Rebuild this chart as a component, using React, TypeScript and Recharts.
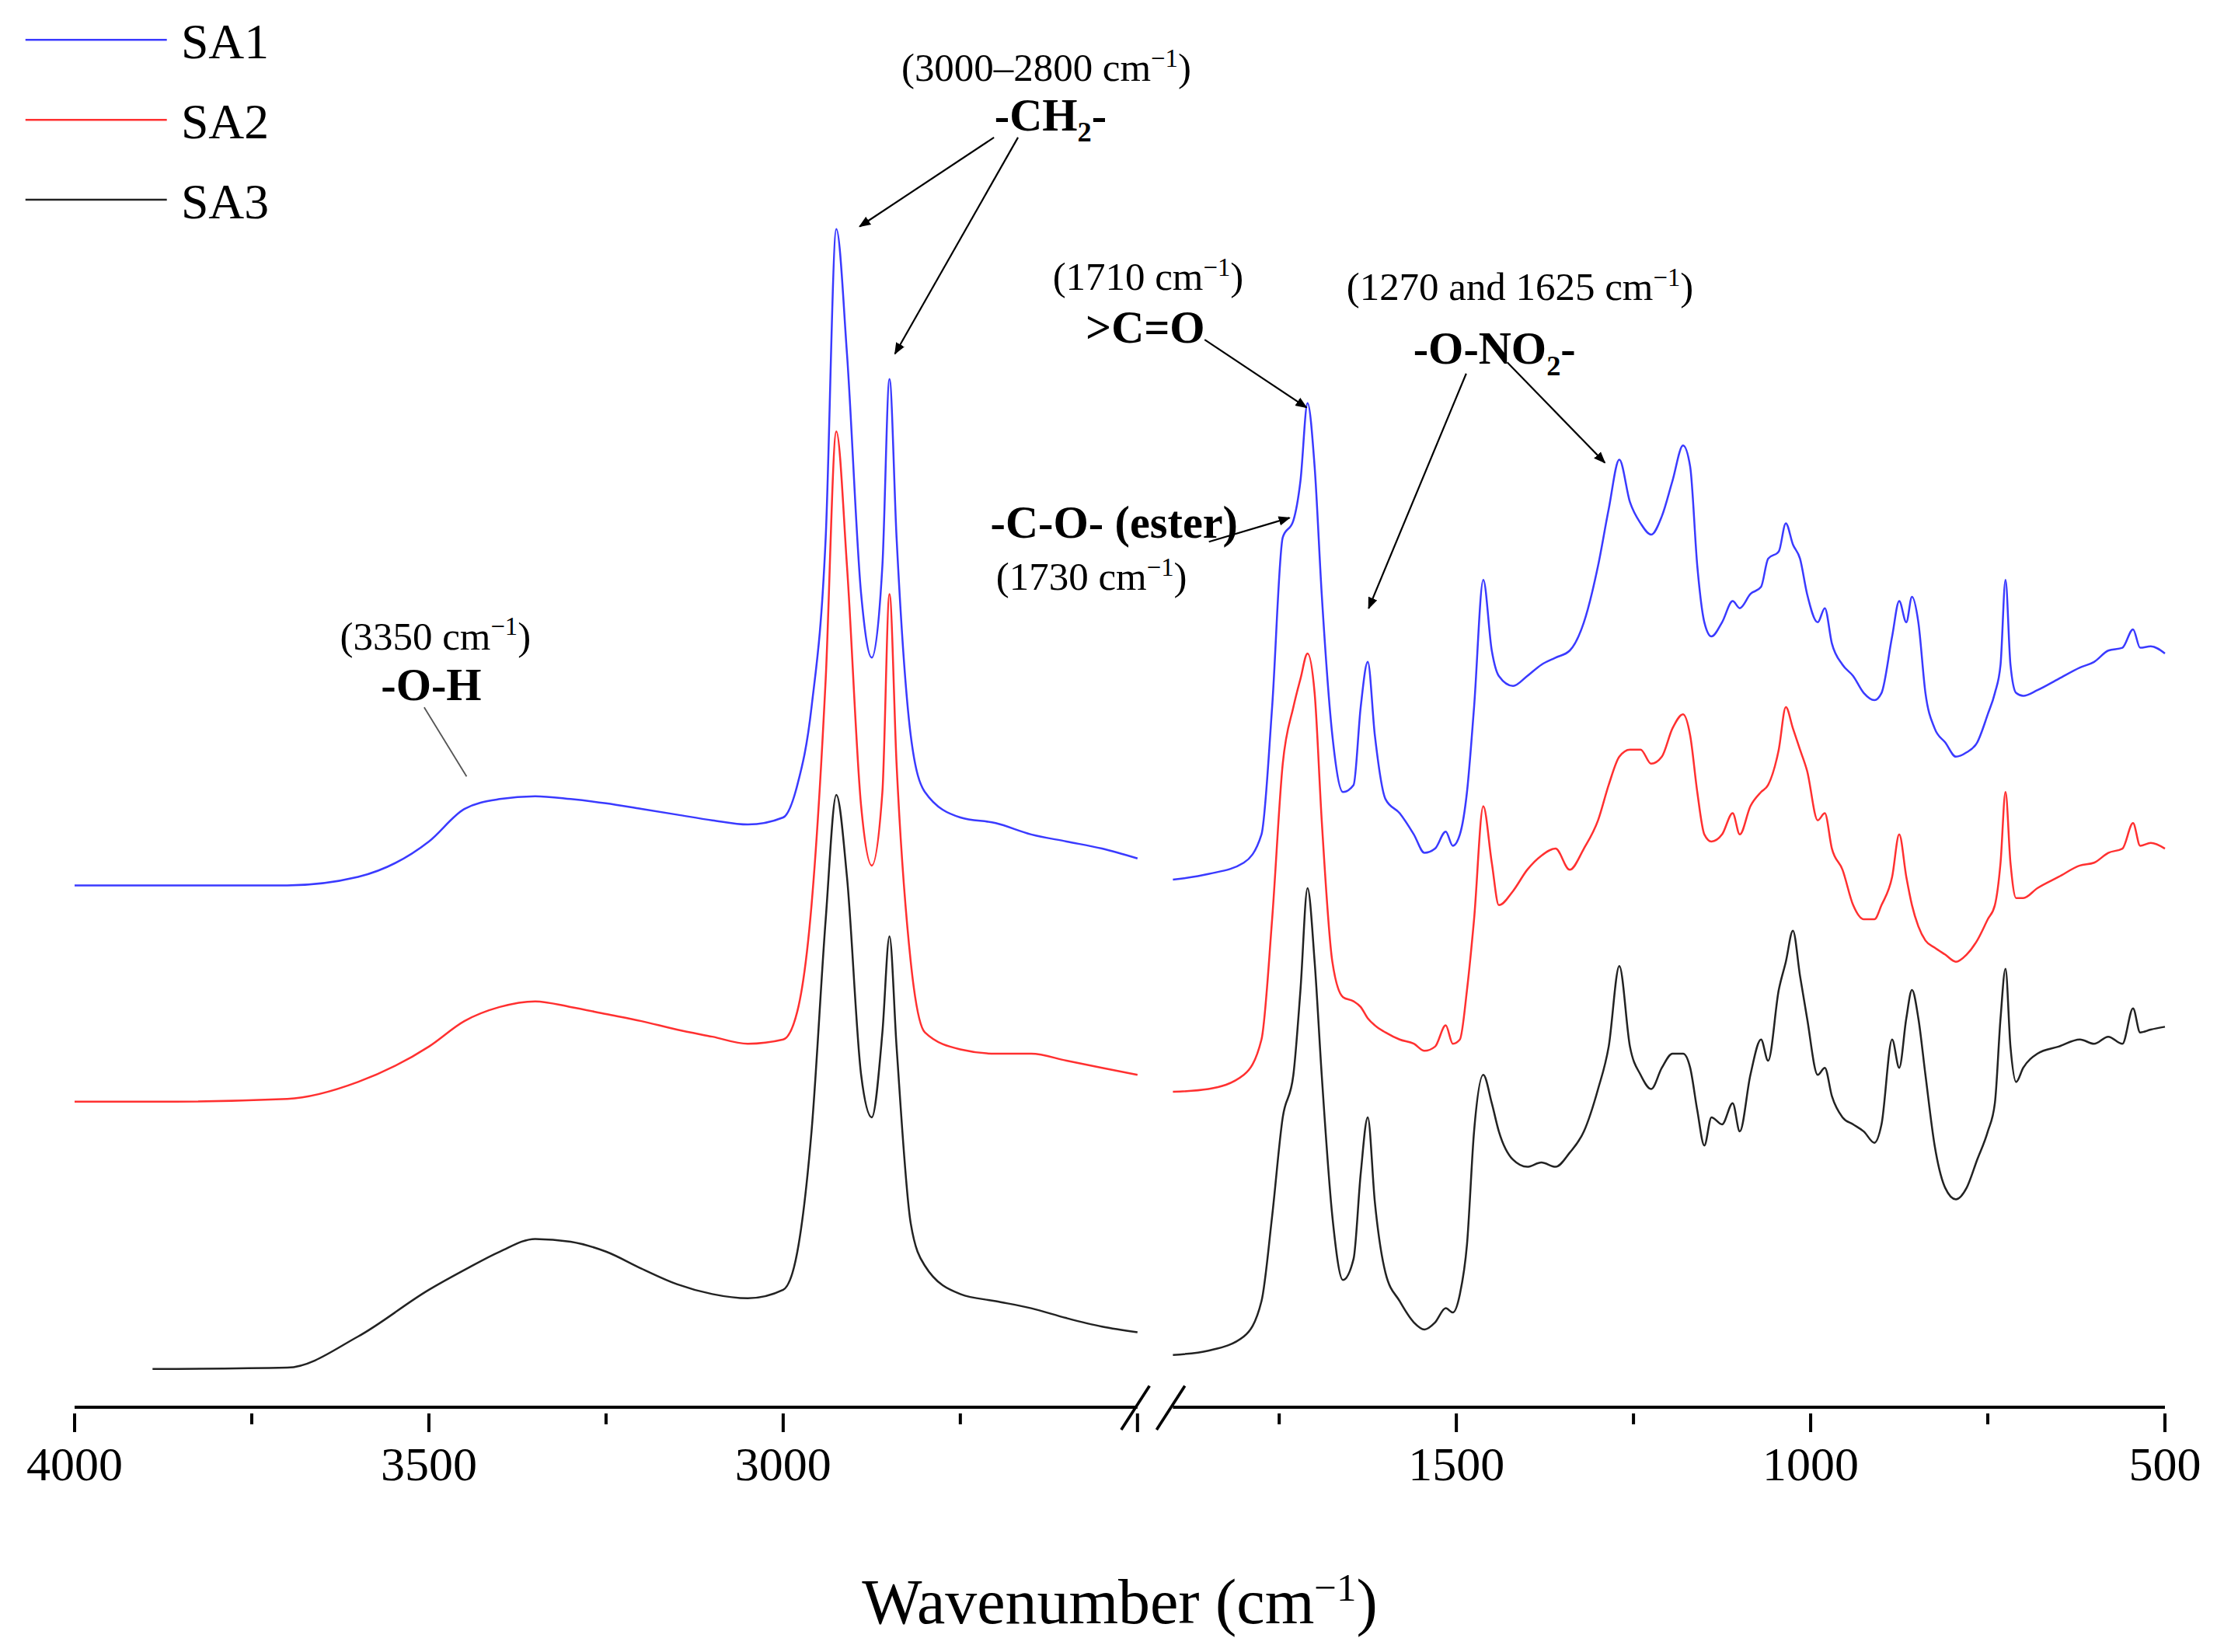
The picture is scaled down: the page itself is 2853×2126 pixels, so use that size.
import React from 'react';
import { LineChart, Line, XAxis, YAxis, ReferenceLine } from 'recharts';

// wavenumbers (cm-1) of the high-frequency segment and the fingerprint segment
const leftWave = [4000, 3890, 3700, 3600, 3500, 3450, 3400, 3350, 3300, 3250, 3200, 3150, 3100, 3050, 3000, 2980, 2960, 2940, 2925, 2910, 2890, 2875, 2860, 2850, 2840, 2820, 2800, 2750, 2700, 2650, 2600, 2550, 2500];
const rightWave = [1900, 1850, 1800, 1775, 1760, 1745, 1730, 1720, 1710, 1700, 1690, 1675, 1660, 1645, 1635, 1625, 1615, 1600, 1580, 1560, 1545, 1530, 1515, 1505, 1495, 1485, 1475, 1462, 1450, 1440, 1420, 1400, 1380, 1360, 1340, 1320, 1300, 1285, 1270, 1255, 1240, 1225, 1210, 1195, 1180, 1170, 1160, 1150, 1140, 1125, 1110, 1100, 1085, 1070, 1060, 1045, 1035, 1025, 1015, 1005, 990, 980, 970, 955, 940, 925, 910, 900, 885, 875, 865, 857, 848, 838, 825, 810, 795, 780, 765, 750, 740, 732, 725, 718, 710, 700, 680, 650, 620, 600, 580, 560, 545, 535, 520, 500];

// offset signal (plotted on a reversed axis, larger = lower on the page)
const sa1Left = [626, 626, 626, 620, 595, 572, 565, 563, 565, 568, 572, 576, 580, 583, 578, 555, 500, 380, 162, 250, 420, 465, 400, 268, 380, 520, 560, 578, 582, 590, 595, 600, 607];
const sa2Left = [779, 779, 777, 765, 740, 722, 712, 708, 712, 717, 722, 728, 733, 738, 735, 715, 640, 480, 305, 400, 570, 612, 560, 420, 540, 680, 730, 742, 745, 745, 750, 755, 760];
const sa3Left = [null, 968, 967, 945, 912, 898, 885, 876, 878, 885, 897, 908, 915, 918, 912, 885, 800, 650, 562, 620, 760, 790, 730, 662, 740, 865, 895, 915, 920, 925, 932, 938, 942];

const sa1Right = [622, 618, 610, 590, 500, 380, 368, 340, 285, 330, 420, 520, 560, 555, 500, 468, 520, 565, 575, 590, 603, 600, 588, 598, 590, 560, 500, 410, 460, 478, 485, 478, 470, 465, 460, 440, 400, 360, 325, 355, 370, 378, 365, 340, 315, 330, 400, 440, 450, 440, 425, 430, 420, 415, 395, 390, 370, 385, 395, 420, 440, 430, 455, 470, 478, 490, 495, 490, 450, 425, 440, 422, 440, 490, 515, 525, 535, 532, 525, 505, 490, 470, 410, 470, 490, 492, 488, 480, 472, 468, 460, 458, 445, 458, 457, 462];
const sa2Right = [772, 770, 760, 735, 650, 540, 500, 480, 462, 490, 580, 680, 705, 708, 712, 720, 725, 730, 735, 738, 743, 740, 725, 738, 735, 700, 650, 570, 610, 640, 630, 615, 605, 600, 615, 600, 580, 555, 535, 530, 530, 540, 535, 515, 505, 520, 560, 590, 595, 590, 575, 590, 570, 560, 555, 530, 500, 515, 530, 545, 580, 575, 600, 615, 640, 650, 650, 640, 620, 590, 620, 640, 655, 665, 670, 675, 680, 675, 665, 650, 640, 610, 560, 610, 635, 635, 628, 620, 612, 610, 603, 600, 582, 598, 596, 600];
const sa3Right = [958, 955, 945, 920, 860, 790, 760, 700, 628, 680, 760, 860, 905, 890, 830, 790, 850, 900, 920, 935, 940, 935, 925, 928, 915, 880, 800, 760, 780, 800, 820, 825, 822, 825, 815, 800, 770, 740, 683, 740, 760, 770, 755, 745, 745, 755, 785, 810, 790, 795, 780, 800, 760, 735, 750, 700, 680, 658, 690, 720, 760, 755, 775, 790, 795, 800, 808, 795, 735, 755, 720, 700, 720, 760, 810, 840, 848, 840, 820, 800, 780, 720, 685, 740, 765, 755, 745, 740, 735, 738, 733, 738, 713, 730, 728, 726];

const majorTicks = [4000, 3500, 3000, 2500, 1500, 1000, 500];
const minorTicks = [3750, 3250, 2750, 1750, 1250, 750];
const tickLabels: Record<number, string> = { 4000: '4000', 3500: '3500', 3000: '3000', 1500: '1500', 1000: '1000', 500: '500' };

// broken axis: wavenumber -> position along a continuous axis
const GAP = 50;
const toPos = (w: number) => (w >= 2500 ? 4000 - w : 1500 + GAP + (1900 - w));
const posToWave = (u: number) => (u <= 1500 ? 4000 - u : 1900 - (u - 1500 - GAP));

const data = [
  ...leftWave.map((w, i) => ({ u: toPos(w), sa1: sa1Left[i], sa2: sa2Left[i], sa3: sa3Left[i] })),
  { u: 1525, sa1: null, sa2: null, sa3: null },
  ...rightWave.map((w, i) => ({ u: toPos(w), sa1: sa1Right[i], sa2: sa2Right[i], sa3: sa3Right[i] })),
];

const FONT = '"Liberation Serif", serif';

const Tick = ({ x, y, payload }: any) => {
  const w = Math.round(posToWave(payload.value));
  const major = majorTicks.includes(w);
  return (
    <g>
      <line x1={x} x2={x} y1={y} y2={y + (major ? 24 : 14)} stroke="#000" strokeWidth={4} />
      {tickLabels[w] && (
        <text x={x} y={y + 86} textAnchor="middle" fontFamily={FONT} fontSize={62} fill="#000">
          {tickLabels[w]}
        </text>
      )}
    </g>
  );
};

const App: React.FC = () => {
  const ticks = [...majorTicks, ...minorTicks].map(toPos).sort((a, b) => a - b);
  return (
    <div style={{ position: 'absolute', left: 0, top: 0, width: 2853, height: 2126, background: '#fff' }}>
      <LineChart width={2853} height={2126} data={data} margin={{ top: 0, left: 96, right: 67, bottom: 285 }}>
        <XAxis dataKey="u" type="number" domain={[0, 2950]} ticks={ticks} tick={<Tick />} tickLine={false} axisLine={false} interval={0} height={30} />
        <YAxis type="number" domain={[0, 995]} reversed hide />
        <ReferenceLine segment={[{ x: 0, y: 995 }, { x: 1500, y: 995 }]} stroke="#000" strokeWidth={4} ifOverflow="visible" />
        <ReferenceLine segment={[{ x: 1550, y: 995 }, { x: 2950, y: 995 }]} stroke="#000" strokeWidth={4} ifOverflow="visible" />
        <Line type="monotone" dataKey="sa1" stroke="#3a3aff" strokeWidth={2.5} dot={false} isAnimationActive={false} connectNulls={false} />
        <Line type="monotone" dataKey="sa2" stroke="#ff3030" strokeWidth={2.5} dot={false} isAnimationActive={false} connectNulls={false} />
        <Line type="monotone" dataKey="sa3" stroke="#222" strokeWidth={2.5} dot={false} isAnimationActive={false} connectNulls={false} />
      </LineChart>
      <svg width={2853} height={2126} viewBox="0 0 1568 1168" style={{ position: 'absolute', left: 0, top: 0, pointerEvents: 'none' }} fontFamily={FONT}>
        <defs>
          <marker id="ah" viewBox="0 0 10 10" refX="9" refY="5" markerWidth="7" markerHeight="7" orient="auto-start-reverse">
            <path d="M0,1 L10,5 L0,9 z" fill="#000" />
          </marker>
        </defs>
        {/* axis break */}
        <line x1={793} y1={1011} x2={813} y2={980} stroke="#000" strokeWidth={2} />
        <line x1={818} y1={1011} x2={838} y2={980} stroke="#000" strokeWidth={2} />
        {/* legend */}
        {[['SA1', '#3a3aff'], ['SA2', '#ff3030'], ['SA3', '#222']].map(([n, c], i) => (
          <g key={n}>
            <line x1={18} x2={118} y1={28 + i * 56.5} y2={28 + i * 56.5} stroke={c} strokeWidth={1.4} />
            <text x={128} y={41 + i * 56.5} fontSize={35}>{n}</text>
          </g>
        ))}
        <text x={792} y={1148} textAnchor="middle" fontSize={45}>
          Wavenumber (cm<tspan dy={-16} fontSize={28}>−1</tspan><tspan dy={16}>)</tspan>
        </text>
        {/* annotations */}
        <g fontSize={28}>
          <text x={740} y={57} textAnchor="middle">(3000–2800 cm<tspan dy={-10} fontSize={18}>−1</tspan><tspan dy={10}>)</tspan></text>
          <text x={812} y={205} textAnchor="middle">(1710 cm<tspan dy={-10} fontSize={18}>−1</tspan><tspan dy={10}>)</tspan></text>
          <text x={1075} y={212} textAnchor="middle">(1270 and 1625 cm<tspan dy={-10} fontSize={18}>−1</tspan><tspan dy={10}>)</tspan></text>
          <text x={772} y={417} textAnchor="middle">(1730 cm<tspan dy={-10} fontSize={18}>−1</tspan><tspan dy={10}>)</tspan></text>
          <text x={308} y={459} textAnchor="middle">(3350 cm<tspan dy={-10} fontSize={18}>−1</tspan><tspan dy={10}>)</tspan></text>
        </g>
        <g fontSize={32} fontWeight="bold">
          <text x={743} y={92} textAnchor="middle">-CH<tspan dy={8} fontSize={20}>2</tspan><tspan dy={-8}>-</tspan></text>
          <text x={810} y={242} textAnchor="middle">&gt;C=O</text>
          <text x={1057} y={257} textAnchor="middle">-O-NO<tspan dy={8} fontSize={20}>2</tspan><tspan dy={-8}>-</tspan></text>
          <text x={788} y={380} textAnchor="middle">-C-O- (ester)</text>
          <text x={305} y={495} textAnchor="middle">-O-H</text>
        </g>
        <g stroke="#000" strokeWidth={1.2} markerEnd="url(#ah)">
          <line x1={703} y1={97} x2={608} y2={160} />
          <line x1={720} y1={97} x2={633} y2={250} />
          <line x1={852} y1={240} x2={924} y2={288} />
          <line x1={1037} y1={264} x2={968} y2={430} />
          <line x1={1066} y1={256} x2={1135} y2={327} />
          <line x1={855} y1={383} x2={912} y2={366} />
        </g>
        <line x1={300} y1={500} x2={330} y2={549} stroke="#555" strokeWidth={1} />
      </svg>
    </div>
  );
};

export default App;
